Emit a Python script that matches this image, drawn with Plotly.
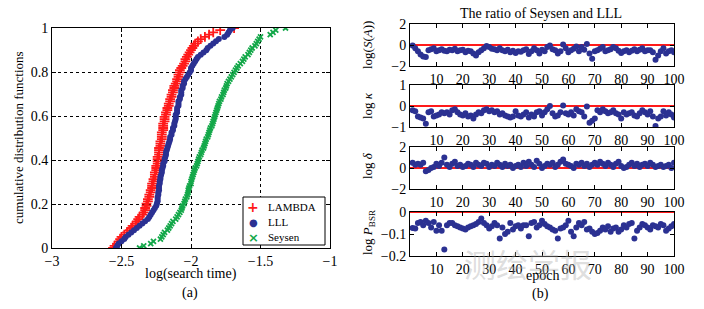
import plotly.graph_objects as go

# ---------------- data ----------------
lambda_t = [-2.561,-2.55,-2.53,-2.52,-2.51,-2.50,-2.48,-2.46,-2.44,-2.43,
            -2.42,-2.40,-2.39,-2.38,-2.37,-2.35,-2.34,-2.33,-2.33,-2.32,
            -2.32,-2.31,-2.31,-2.30,-2.30,-2.29,-2.29,-2.28,-2.28,-2.28,
            -2.27,-2.27,-2.26,-2.26,-2.26,-2.25,-2.25,-2.25,-2.24,-2.24,
            -2.24,-2.24,-2.23,-2.23,-2.23,-2.23,-2.22,-2.22,-2.22,-2.21,
            -2.21,-2.21,-2.21,-2.20,-2.20,-2.20,-2.20,-2.19,-2.19,-2.19,
            -2.18,-2.18,-2.17,-2.17,-2.16,-2.16,-2.15,-2.15,-2.14,-2.14,
            -2.13,-2.13,-2.12,-2.12,-2.11,-2.10,-2.10,-2.09,-2.09,-2.08,
            -2.08,-2.07,-2.06,-2.05,-2.04,-2.04,-2.03,-2.02,-2.01,-2.00,
            -1.99,-1.98,-1.97,-1.95,-1.93,-1.90,-1.87,-1.84,-1.79,-1.69]
lll_t = [-2.54,-2.53,-2.52,-2.50,-2.48,-2.47,-2.45,-2.43,-2.41,-2.39,
         -2.37,-2.35,-2.33,-2.31,-2.30,-2.29,-2.28,-2.27,-2.26,-2.25,
         -2.245,-2.24,-2.24,-2.24,-2.235,-2.235,-2.23,-2.23,-2.23,-2.225,
         -2.225,-2.22,-2.22,-2.215,-2.21,-2.21,-2.205,-2.20,-2.20,-2.19,
         -2.19,-2.185,-2.18,-2.18,-2.175,-2.17,-2.165,-2.16,-2.155,-2.15,
         -2.15,-2.14,-2.14,-2.13,-2.13,-2.12,-2.12,-2.115,-2.11,-2.11,
         -2.11,-2.10,-2.10,-2.10,-2.09,-2.09,-2.09,-2.08,-2.08,-2.07,
         -2.07,-2.07,-2.06,-2.06,-2.05,-2.05,-2.04,-2.03,-2.02,-2.01,
         -2.00,-2.00,-1.99,-1.98,-1.97,-1.96,-1.95,-1.93,-1.91,-1.89,
         -1.88,-1.86,-1.84,-1.82,-1.80,-1.76,-1.74,-1.73,-1.72,-1.70]
seysen_t = [-2.37,-2.34,-2.29,-2.27,-2.22,-2.21,-2.20,-2.19,-2.17,-2.16,
            -2.15,-2.14,-2.13,-2.11,-2.10,-2.09,-2.08,-2.07,-2.065,-2.06,
            -2.05,-2.045,-2.04,-2.03,-2.025,-2.02,-2.02,-2.015,-2.01,-2.00,
            -2.00,-1.995,-1.99,-1.985,-1.98,-1.975,-1.97,-1.96,-1.955,-1.95,
            -1.945,-1.94,-1.93,-1.925,-1.92,-1.91,-1.905,-1.90,-1.895,-1.89,
            -1.88,-1.875,-1.87,-1.865,-1.86,-1.85,-1.845,-1.84,-1.835,-1.83,
            -1.825,-1.82,-1.815,-1.81,-1.805,-1.80,-1.795,-1.785,-1.78,-1.77,
            -1.765,-1.76,-1.75,-1.745,-1.74,-1.73,-1.72,-1.71,-1.70,-1.69,
            -1.68,-1.67,-1.66,-1.645,-1.63,-1.62,-1.61,-1.59,-1.58,-1.57,
            -1.56,-1.54,-1.53,-1.52,-1.51,-1.50,-1.43,-1.41,-1.39,-1.32]
cdf_levels = [i / 99 for i in range(100)]
series_names = ["LAMBDA", "LLL", "Seysen"]

epochs = list(range(1, 101))
log_SA = [-0.05,-0.3,-0.6,-0.9,-1.1,-1.15,-0.5,-0.4,-0.3,-0.6,
          -0.5,-0.4,-0.55,-0.6,-0.45,-0.5,-0.35,-0.6,-0.5,-0.45,
          -0.7,-0.55,-0.6,-0.8,-1.0,-0.7,-0.5,-0.3,-0.1,-0.2,
          -0.35,-0.4,-0.5,-0.3,-0.5,-0.6,-0.45,-0.7,-0.55,-0.75,
          -0.6,-0.65,-0.5,-0.4,-0.85,-0.6,-0.3,-0.5,-0.8,-0.45,
          -0.6,-0.2,-0.05,-0.4,-0.5,-0.8,-0.6,0.05,-0.3,-0.7,
          -0.5,-0.35,-0.15,-0.6,-0.2,-0.45,0.1,-0.8,-1.3,-0.6,
          -0.5,-0.35,-0.2,-0.6,-0.5,-0.4,-0.2,-0.3,-0.55,-0.75,
          -0.6,-0.5,-0.7,-0.55,-0.4,-0.6,-0.45,-0.3,-0.6,-0.5,
          -0.5,-0.7,-1.4,-1.0,-0.6,-0.3,-0.8,-0.6,-0.5,-0.7]
log_kappa = [-0.2,-0.25,-0.5,-0.55,-0.6,-0.85,-0.3,-0.25,-0.5,-0.45,
             -0.4,-0.3,-0.35,-0.3,-0.4,-0.2,-0.15,-0.3,-0.4,-0.45,
             -0.35,-0.5,-0.45,-0.6,-0.4,-0.3,-0.35,-0.2,-0.15,-0.25,
             -0.2,-0.3,-0.25,-0.4,-0.35,-0.45,-0.5,-0.55,-0.5,-0.25,
             -0.45,-0.5,-0.4,-0.3,-0.55,-0.4,-0.5,-0.3,-0.25,-0.45,
             -0.3,-0.15,0.0,-0.35,-0.5,-0.45,-0.3,0.02,-0.35,-0.4,
             -0.3,-0.45,-0.15,-0.25,-0.3,-0.5,-0.02,-0.8,-0.7,-0.6,
             -0.2,-0.3,-0.15,-0.25,-0.35,-0.3,-0.2,-0.35,-0.4,-0.6,
             -0.3,-0.4,-0.35,-0.3,-0.45,-0.5,-0.35,-0.2,-0.3,-0.4,
             -0.25,-0.5,-0.95,-0.6,-0.5,-0.25,-0.45,-0.3,-0.4,-0.55]
log_delta = [0.5,0.3,0.4,0.3,0.5,-0.3,-0.2,0.0,0.1,0.4,
             0.2,0.5,1.0,0.3,0.1,0.4,0.6,0.2,0.3,0.1,
             0.2,0.4,0.3,0.1,0.5,0.3,0.2,0.5,0.4,0.1,
             0.3,0.2,0.5,0.3,0.1,0.4,0.2,0.3,0.0,0.2,
             0.3,0.1,0.5,0.2,0.6,0.3,0.1,0.7,0.4,0.0,
             0.2,0.4,0.3,0.5,0.1,0.3,0.6,0.8,0.4,0.3,
             0.2,0.0,0.4,0.3,0.5,0.2,0.4,0.1,0.3,0.5,
             0.3,0.6,0.4,0.2,0.5,0.3,0.1,0.4,0.6,0.2,
             0.0,0.1,0.3,0.5,0.2,0.4,0.1,0.3,0.4,0.2,
             0.5,0.3,0.1,0.2,0.3,0.1,0.2,0.3,0.0,0.5]
log_pbsr = [-0.073,-0.075,-0.05,-0.045,-0.06,-0.04,-0.05,-0.07,-0.045,-0.085,
            -0.06,-0.085,-0.17,-0.06,-0.05,-0.05,-0.06,-0.065,-0.07,-0.075,
            -0.08,-0.07,-0.065,-0.06,-0.055,-0.045,-0.03,-0.05,-0.06,-0.075,
            -0.065,-0.05,-0.06,-0.12,-0.07,-0.1,-0.09,-0.05,-0.08,-0.065,
            -0.06,-0.075,-0.06,-0.06,-0.11,-0.05,-0.045,-0.07,-0.06,-0.04,
            -0.055,-0.065,-0.07,-0.08,-0.085,-0.12,-0.075,-0.07,-0.06,-0.04,
            -0.09,-0.11,-0.07,-0.05,-0.06,-0.045,-0.08,-0.075,-0.09,-0.1,
            -0.095,-0.085,-0.07,-0.08,-0.065,-0.09,-0.075,-0.07,-0.09,-0.08,
            -0.06,-0.07,-0.055,-0.05,-0.12,-0.085,-0.07,-0.055,-0.06,-0.07,
            -0.08,-0.06,-0.065,-0.07,-0.055,-0.06,-0.085,-0.075,-0.065,-0.055]

right_titles = ["log(<i>S</i>(<i>A</i>))", "log <i>κ</i>", "log <i>δ</i>",
                "log <i>P</i><sub>BSR</sub>"]
right_ranges = [[-2, 2], [-1, 1], [-2, 2], [-0.2, 0]]
right_ticks = [[-2, 0, 2], [-1, 0, 1], [-2, 0, 2], [-0.2, -0.1, 0]]
right_series = [log_SA, log_kappa, log_delta, log_pbsr]

# ---------------- styling ----------------
FONT = "Liberation Serif"
W, H = 704, 309
RED, BLUE, GREEN = "#ff1a1a", "#2b3192", "#14a84a"

def px(x0, x1):
    return [x0 / W, x1 / W]

def py(y_top, y_bot):
    return [1 - y_bot / H, 1 - y_top / H]

fig = go.Figure()

fig.add_trace(go.Scatter(x=lambda_t, y=cdf_levels, mode="markers", name=series_names[0],
                         marker=dict(symbol="cross-thin", size=7, line=dict(color=RED, width=1.8), color=RED),
                         xaxis="x", yaxis="y"))
fig.add_trace(go.Scatter(x=lll_t, y=cdf_levels, mode="markers", name=series_names[1],
                         marker=dict(symbol="circle", size=6, color=BLUE),
                         xaxis="x", yaxis="y"))
fig.add_trace(go.Scatter(x=seysen_t, y=cdf_levels, mode="markers", name=series_names[2],
                         marker=dict(symbol="x-thin", size=5, line=dict(color=GREEN, width=1.8), color=GREEN),
                         xaxis="x", yaxis="y"))

def axis_style(size=14):
    return dict(showline=True, linecolor="black", linewidth=1, mirror="ticks",
                ticks="inside", ticklen=4, tickcolor="black", zeroline=False,
                automargin=False,
                tickfont=dict(family=FONT, size=size, color="black"))

layout = dict(
    width=W, height=H, margin=dict(l=0, r=0, t=0, b=0, autoexpand=False),
    paper_bgcolor="white", plot_bgcolor="white",
    font=dict(family=FONT, color="black"),
    xaxis=dict(domain=px(52, 330), range=[-3, -1], dtick=0.5, tick0=-3,
               showgrid=True, gridcolor="black", griddash="dot", gridwidth=1,
               anchor="y", **axis_style(14)),
    yaxis=dict(domain=py(28, 248), range=[0, 1], dtick=0.2,
               showgrid=True, gridcolor="black", griddash="dot", gridwidth=1,
               anchor="x", **axis_style(14)),
    showlegend=False,
)

right_boxes = [(24, 66), (85, 127), (147, 189), (212, 256)]
for k in range(4):
    idx = k + 2
    xa = "x%d" % idx
    ya = "y%d" % idx
    fig.add_trace(go.Scatter(x=[0, 100], y=[0, 0], mode="lines", showlegend=False,
                             line=dict(color=RED, width=2), xaxis=xa, yaxis=ya,
                             hoverinfo="skip"))
    fig.add_trace(go.Scatter(x=epochs, y=right_series[k], mode="markers", showlegend=False,
                             marker=dict(symbol="circle", size=6, color=BLUE),
                             xaxis=xa, yaxis=ya))
    top, bot = right_boxes[k]
    layout["xaxis%d" % idx] = dict(domain=px(410, 674), range=[0, 100],
                                   tickvals=[10, 20, 30, 40, 50, 60, 70, 80, 90, 100],
                                   showgrid=False, anchor=ya, **axis_style(14))
    layout["yaxis%d" % idx] = dict(domain=py(top, bot), range=right_ranges[k],
                                   tickvals=right_ticks[k], showgrid=False, anchor=xa,
                                   **axis_style(14))

# compact legend box (MATLAB style)
layout["shapes"] = [dict(type="rect", xref="paper", yref="paper",
                         x0=243 / W, x1=325 / W, y0=1 - 245 / H, y1=1 - 197 / H,
                         line=dict(color="black", width=1), fillcolor="white", layer="above")]

fig.update_layout(**layout)

def ann(text, x, y, size=14, angle=0, family=FONT, color="black", xanchor="center"):
    return dict(text=text, x=x / W, y=1 - y / H, xref="paper", yref="paper",
                xanchor=xanchor, yanchor="middle", textangle=angle,
                showarrow=False, font=dict(family=family, size=size, color=color))

legend_rows = [(207, "<b>+</b>", RED, 14), (222, "●", BLUE, 10), (237, "<b>×</b>", GREEN, 13)]
annotations = []
for (yy, glyph, col, gs), name in zip(legend_rows, series_names):
    annotations.append(ann(glyph, 253, yy, gs, 0, "DejaVu Sans", col))
    annotations.append(ann(name, 266, yy, 11, 0, FONT, "black", "left"))

annotations += [
    ann("cumulative distribution functions", 18, 138, 13, -90),
    ann("log(search time)", 191, 274, 14),
    ann("(a)", 190, 293, 14),
    ann("The ratio of Seysen and LLL", 541, 13, 14),
    ann(right_titles[0], 368, 45, 13, -90),
    ann(right_titles[1], 368, 106, 13, -90),
    ann(right_titles[2], 368, 166, 13, -90),
    ann(right_titles[3], 368, 232, 13, -90),
    ann("epoch", 542, 275, 14),
    ann("(b)", 540, 294, 14),
    ann("测绘学报", 528, 263, 32, 0, "Noto Sans CJK SC", "rgba(170,170,170,0.4)"),
]
fig.update_layout(annotations=annotations)

fig.write_html("out.html", config={"displayModeBar": False},
               post_script="document.body.style.margin='0px';")
